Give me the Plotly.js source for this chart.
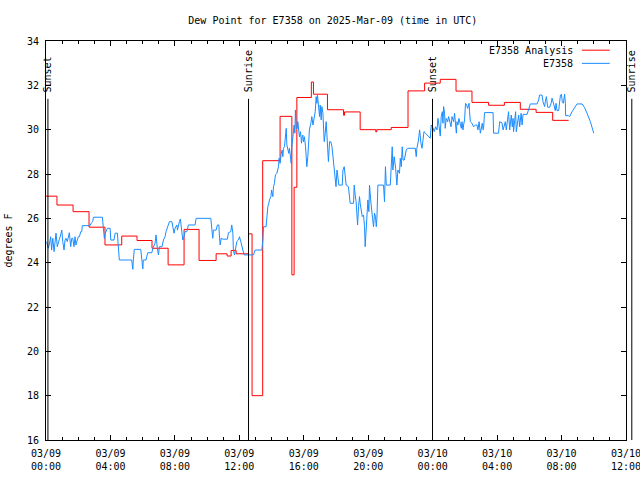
<!DOCTYPE html>
<html><head><meta charset="utf-8">
<script src="https://cdn.plot.ly/plotly-3.0.1.min.js"></script>
<style>html,body{margin:0;padding:0;background:#fff}#chart{width:640px;height:480px}</style>
</head><body><div id="chart"></div>
<script>
const TITLE = "Dew Point for E7358 on 2025-Mar-09 (time in UTC)";
const Y_LABEL = "degrees F";
const X_RANGE_H = [0, 36];          // hours after 2025-03-09 00:00 UTC
const Y_RANGE = [16, 34];
const analysisName = "E7358 Analysis";
const obsName = "E7358";

// Analysis (step) series: hours after 03/09 00:00 UTC, degrees F
const red_h = [0.00,0.68,1.68,2.67,3.66,4.70,5.65,6.58,7.58,8.57,9.50,10.56,11.24,11.49,11.80,12.57,12.79,13.45,14.53,15.26,15.40,15.57,16.47,16.60,17.47,18.47,18.53,19.50,20.47,20.53,21.43,22.47,23.50,24.47,25.45,26.44,27.47,28.45,29.44,30.42,31.45,32.44];
const red_v = [27.0,26.6,26.3,25.6,24.8,25.2,25.0,24.65,23.9,25.5,24.1,24.4,24.3,24.55,24.4,25.3,18.0,28.6,30.6,23.45,27.4,31.45,32.15,31.6,30.9,30.65,30.8,30.0,29.9,30.0,30.1,31.75,32.1,32.27,31.74,31.23,31.1,31.23,30.92,30.78,30.42,30.42];

// Observed series
const blue_h = [0.04,0.14,0.20,0.29,0.35,0.42,0.50,0.56,0.62,0.70,
0.76,0.83,0.91,0.98,1.04,1.12,1.18,1.24,1.32,1.39,
1.45,1.53,1.60,1.66,1.74,1.80,1.86,1.94,2.01,2.07,
2.16,2.22,2.25,2.73,2.80,2.90,2.94,3.50,3.56,3.62,
3.68,3.81,3.98,4.02,4.22,4.29,4.43,4.49,4.55,5.32,
5.39,5.42,5.48,5.88,5.94,6.01,6.04,6.21,6.25,6.32,
6.57,6.63,6.77,6.83,6.91,6.98,7.04,7.20,7.29,7.39,
7.45,7.53,7.66,7.81,7.87,7.95,8.01,8.12,8.16,8.22,
8.28,8.34,8.40,8.49,8.57,8.63,8.74,8.84,9.25,9.32,
10.23,10.29,10.35,10.39,10.56,10.64,10.73,10.76,10.81,10.87,
10.98,11.26,11.32,11.47,11.53,11.60,11.63,11.70,11.76,11.84,
11.94,12.01,12.09,12.16,12.22,12.30,12.88,12.98,13.40,13.46,
13.50,13.66,13.71,13.77,13.83,13.87,13.96,14.00,14.08,14.12,
14.18,14.24,14.33,14.37,14.43,14.47,14.53,14.60,14.66,14.70,
14.74,14.80,14.86,14.91,14.95,15.01,15.07,15.11,15.16,15.22,
15.26,15.32,15.40,15.45,15.48,15.53,15.59,15.63,15.70,15.73,
15.80,15.86,15.90,15.94,15.98,16.04,16.11,16.15,16.19,16.25,
16.29,16.35,16.44,16.50,16.57,16.65,16.71,16.77,16.81,16.85,
16.91,16.98,17.02,17.08,17.12,17.19,17.22,17.27,17.33,17.39,
17.43,17.50,17.53,17.60,17.68,17.75,17.81,17.89,17.95,18.00,
18.06,18.12,18.18,18.39,18.43,18.51,18.57,18.63,18.77,18.84,
18.88,19.09,19.13,19.19,19.25,19.30,19.34,19.40,19.46,19.50,
19.57,19.63,19.71,19.77,19.81,19.88,19.94,19.98,20.04,20.08,
20.17,20.23,20.27,20.33,20.39,20.45,20.50,20.54,20.60,20.95,
21.01,21.07,21.12,21.37,21.43,21.49,21.53,21.61,21.70,21.74,
21.78,21.84,21.94,21.99,22.05,22.11,22.16,22.24,22.30,22.36,
22.44,22.92,22.98,23.02,23.12,23.19,23.27,23.34,23.40,23.46,
23.56,23.65,23.75,23.85,23.91,24.02,24.10,24.18,24.27,24.33,
24.39,24.47,24.53,24.60,24.64,24.68,24.74,24.78,24.84,24.93,
24.99,25.05,25.14,25.20,25.30,25.36,25.42,25.47,25.51,25.57,
25.63,25.71,25.78,25.82,25.88,25.92,25.98,26.04,26.11,26.17,
26.26,26.29,26.34,26.44,26.54,26.65,26.75,26.81,26.88,26.96,
27.02,27.08,27.13,27.16,27.22,27.75,27.78,28.09,28.16,28.30,
28.37,28.45,28.51,28.57,28.65,28.71,28.78,28.82,28.88,28.94,
28.99,29.02,29.09,29.15,29.19,29.27,29.34,29.40,29.44,29.49,
29.55,29.61,29.86,29.96,30.06,30.48,30.58,30.64,30.79,30.85,
30.95,30.99,31.06,31.14,31.26,31.35,31.41,31.51,31.57,31.61,
31.66,31.72,31.82,31.88,31.93,31.99,32.05,32.11,32.19,32.24,
32.25,32.44,32.50,32.65,32.81,32.96,33.27,33.42,33.58,33.79,34.00];
const blue_v = [24.95,24.65,24.80,25.17,24.57,25.10,24.50,24.88,25.33,24.72,
24.95,25.06,25.25,25.47,24.95,24.57,25.02,25.10,24.95,25.17,
25.35,24.72,25.10,25.10,24.72,25.17,24.80,25.02,25.17,25.17,
25.40,25.40,25.67,25.67,25.78,25.85,26.05,26.05,25.55,25.10,
25.33,25.55,25.55,25.02,25.02,25.33,25.33,24.72,24.12,24.12,
23.70,24.12,24.60,24.60,24.12,23.72,24.12,24.12,24.27,24.45,
24.45,24.65,24.88,25.25,24.65,24.35,24.72,24.72,25.02,25.17,
25.40,25.62,25.85,25.85,25.55,25.33,25.55,25.70,25.47,25.70,
25.85,25.97,25.62,25.02,25.17,25.40,25.40,25.70,25.70,26.00,
26.00,25.47,25.10,25.47,25.47,25.70,25.70,25.25,24.80,25.10,
25.06,25.06,25.35,25.40,25.70,25.33,24.57,24.35,24.72,24.95,
25.02,25.17,24.95,24.80,24.57,24.35,24.35,24.57,24.57,25.02,
25.62,25.62,26.23,26.53,26.68,26.83,26.98,27.28,26.98,27.43,
27.58,27.96,28.03,28.18,28.33,28.71,28.48,28.93,29.08,28.78,
29.16,29.23,29.84,30.06,29.31,29.16,28.93,29.16,28.86,28.48,
29.23,29.68,30.21,29.84,30.89,30.06,30.06,30.36,29.84,29.68,
29.91,29.39,29.68,29.76,29.46,29.68,29.23,28.78,28.33,28.78,
29.39,29.99,30.29,30.59,30.21,30.66,30.81,31.49,31.19,31.56,
31.04,30.59,31.11,30.44,31.04,30.74,30.21,29.46,29.84,30.36,
29.84,29.01,28.56,29.46,29.46,29.23,28.78,28.18,27.58,27.43,
28.18,27.88,27.50,27.50,28.18,28.33,27.88,27.50,27.43,27.05,
26.68,26.68,27.50,27.05,26.75,26.15,25.70,26.53,26.98,26.68,
26.23,26.08,26.15,25.62,24.72,25.47,26.08,26.83,26.30,27.50,
26.68,26.38,26.00,25.62,26.23,26.08,25.62,26.00,27.50,27.50,
26.75,28.33,27.50,27.50,28.33,29.23,28.18,28.78,28.26,27.88,
27.50,28.18,28.03,28.71,28.33,29.23,28.63,28.63,28.93,29.08,
29.16,29.16,28.78,29.16,29.53,29.99,29.39,29.16,29.53,29.91,
29.84,29.76,29.68,29.61,30.21,30.08,29.91,30.13,29.99,30.51,
30.21,29.71,30.59,30.81,30.29,31.04,30.74,30.06,30.51,30.36,
30.59,30.44,30.13,30.59,30.36,30.74,30.06,29.84,30.36,30.21,
30.51,30.21,30.06,30.36,29.99,30.21,30.44,31.19,31.11,30.96,
31.19,30.81,30.36,30.29,30.13,30.21,30.21,29.99,30.36,29.84,
30.06,30.29,29.99,30.06,30.77,30.77,29.84,29.84,30.36,30.31,
29.99,30.29,30.36,29.99,30.59,30.81,29.99,30.44,30.66,30.13,
30.51,29.91,30.59,30.81,29.91,30.29,30.66,30.13,30.44,30.74,
30.21,30.69,30.69,30.89,31.16,31.16,31.34,31.56,31.56,31.26,
31.04,31.26,31.49,31.01,31.01,31.19,31.42,31.16,30.86,30.86,
31.19,30.86,30.86,31.34,31.56,31.60,31.26,31.19,31.60,31.19,
30.63,30.63,30.59,30.81,31.01,31.16,31.16,31.01,30.74,30.36,29.84];

// Sun events (hours after 03/09 00:00 UTC)
const sun_labels = ["Sunset", "Sunrise", "Sunset", "Sunrise"];
const sun_h = [0.12, 12.57, 23.99, 36.36];

const BASE = Date.UTC(2025, 2, 9, 0, 0, 0);
const HOUR = 3600000;
const toMs = h => BASE + h * HOUR;
const toPaper = h => (h - X_RANGE_H[0]) / (X_RANGE_H[1] - X_RANGE_H[0]);

const FONT = "DejaVu Sans Mono, Liberation Mono, monospace";
const RED = "#ff0000", BLUE = "#1a8cff";

const traces = [
  {x: red_h.map(toMs), y: red_v, type: "scatter", mode: "lines", name: analysisName,
   line: {color: RED, width: 1, shape: "hv"}},
  {x: blue_h.map(toMs), y: blue_v, type: "scatter", mode: "lines", name: obsName,
   line: {color: BLUE, width: 1}}
];

const shapes = [], annotations = [];
sun_h.forEach((h, i) => {
  const px = toPaper(h);
  shapes.push({type: "line", xref: "paper", yref: "paper", x0: px, x1: px, y0: 0, y1: 0.855,
    line: {color: "#000", width: 1}});
  annotations.push({xref: "paper", yref: "paper", x: px, y: 0.868, text: sun_labels[i],
    textangle: -90, xanchor: "center", yanchor: "bottom", showarrow: false,
    font: {family: FONT, size: 10, color: "#000"}, borderpad: 0});
});
// legend (text left of line sample, gnuplot style)
[[analysisName, RED, 0.977], [obsName, BLUE, 0.944]].forEach(([name, col, y]) => {
  annotations.push({xref: "paper", yref: "paper", x: 0.910, y: y, text: name,
    xanchor: "right", yanchor: "middle", showarrow: false,
    font: {family: FONT, size: 10, color: "#000"}, borderpad: 0});
  shapes.push({type: "line", xref: "paper", yref: "paper", x0: 0.924, x1: 0.972, y0: y, y1: y,
    line: {color: col, width: 1}});
});

const axisCommon = {
  showline: true, linecolor: "#000", linewidth: 1, mirror: "allticks",
  ticks: "inside", ticklen: 5, tickcolor: "#000", tickwidth: 1,
  showgrid: false, zeroline: false, ticklabeloverflow: "allow",
  tickfont: {family: FONT, size: 10, color: "#000"}
};

const layout = {
  width: 640, height: 480,
  margin: {l: 46, r: 14, t: 41, b: 40, pad: 0},
  paper_bgcolor: "#fff", plot_bgcolor: "#fff",
  showlegend: false,
  font: {family: FONT, size: 10, color: "#000"},
  title: {text: TITLE, x: 0.52, xref: "container", y: 0.958, yref: "container", yanchor: "middle",
    font: {family: FONT, size: 10, color: "#000"}},
  xaxis: Object.assign({}, axisCommon, {
    type: "date", range: [toMs(X_RANGE_H[0]), toMs(X_RANGE_H[1])],
    tick0: toMs(0), dtick: 4 * HOUR, tickformat: "%m/%d<br>%H:%M",
    ticklabelstandoff: 4,
    minor: {dtick: HOUR, ticks: "inside", ticklen: 3, tickcolor: "#000", showgrid: false}
  }),
  yaxis: Object.assign({}, axisCommon, {
    range: Y_RANGE, dtick: 2, tick0: 16, ticklabelstandoff: 4,
    title: {text: Y_LABEL, standoff: 12, font: {family: FONT, size: 10, color: "#000"}}
  }),
  shapes: shapes, annotations: annotations
};

Plotly.newPlot("chart", traces, layout, {displayModeBar: false, staticPlot: true});
</script>
</body></html>
